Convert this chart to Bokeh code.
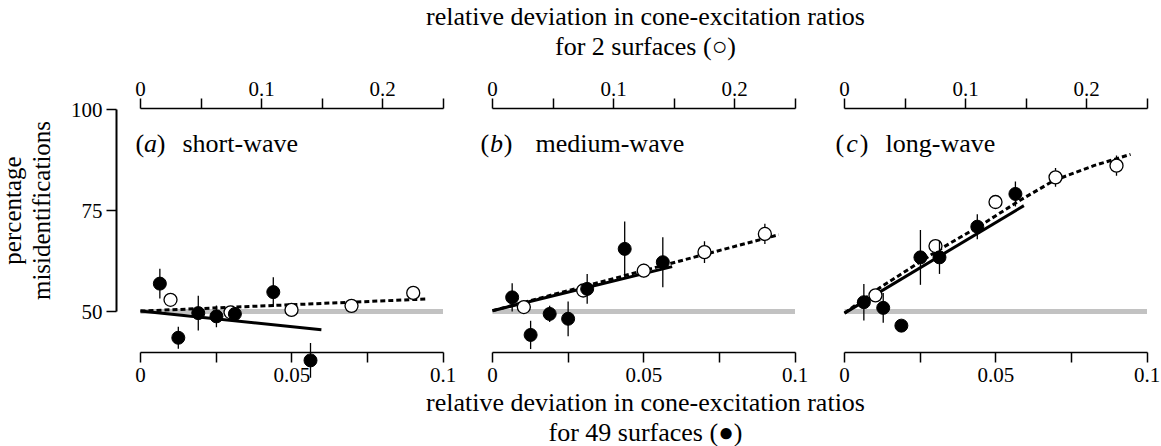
import math
from bokeh.plotting import figure
from bokeh.models import Range1d, LinearAxis, FixedTicker
from bokeh.core.properties import value
from bokeh.embed import file_html
from bokeh.resources import INLINE

# ---------------- data ----------------
panel_keys = ["a", "b", "c"]
panel_letters = ["a", "b", "c"]
panel_names = ["short-wave", "medium-wave", "long-wave"]

# 49 surfaces (filled circles), bottom axis units
a_filled_x = [0.0064, 0.0125, 0.0191, 0.0251, 0.0312, 0.0439, 0.0562]
a_filled_y = [56.9, 43.5, 49.6, 48.8, 49.4, 54.8, 37.9]
a_filled_e = [3.7, 2.7, 4.3, 2.7, 0.8, 3.7, 4.3]
b_filled_x = [0.0065, 0.0126, 0.0189, 0.0250, 0.0313, 0.0437, 0.0563]
b_filled_y = [53.5, 44.2, 49.4, 48.2, 55.6, 65.5, 62.2]
b_filled_e = [3.5, 3.5, 2.0, 4.3, 3.7, 6.8, 6.2]
c_filled_x = [0.0064, 0.0128, 0.0188, 0.0251, 0.0314, 0.0439, 0.0565]
c_filled_y = [52.3, 50.9, 46.5, 63.4, 63.4, 71.0, 79.1]
c_filled_e = [4.5, 3.7, 0.0, 6.8, 4.1, 3.1, 3.1]

# 2 surfaces (open circles), top axis units
a_open_x = [0.0248, 0.0744, 0.1248, 0.1744, 0.2254]
a_open_y = [52.9, 49.8, 50.4, 51.4, 54.6]
a_open_e = [0.0, 0.0, 1.7, 0.0, 0.0]
b_open_x = [0.0259, 0.0750, 0.1250, 0.1752, 0.2251]
b_open_y = [51.1, 55.2, 60.1, 64.7, 69.2]
b_open_e = [0.0, 0.0, 1.7, 2.7, 2.5]
c_open_x = [0.0256, 0.0752, 0.1248, 0.1744, 0.2248]
c_open_y = [54.0, 66.2, 77.1, 83.2, 86.1]
c_open_e = [0.0, 0.0, 0.0, 2.3, 2.5]

# fitted lines
a_solid_x = [0.0, 0.0598]
a_solid_y = [50.1, 45.5]
b_solid_x = [0.0, 0.0594]
b_solid_y = [50.2, 61.1]
c_solid_x = [0.0, 0.0593]
c_solid_y = [49.6, 76.2]
a_dash_x = [0.0, 0.237]
a_dash_y = [50.1, 53.1]
b_dash_x = [0.0, 0.2366]
b_dash_y = [50.2, 69.0]
c_dash_x = [0.0, 0.0298, 0.0793, 0.1124, 0.1455, 0.1730, 0.2060, 0.2364]
c_dash_y = [49.6, 56.0, 65.5, 71.3, 77.6, 82.4, 86.1, 88.9]

chance_x = [0.0, 0.1]
chance_y = [50, 50]

bottom_ticks = [0, 0.05, 0.1]
bottom_tick_labels = ["0", "0.05", "0.1"]
bottom_minor = [0.025, 0.075]
top_ticks = [0, 0.1, 0.2]
top_tick_labels = ["0", "0.1", "0.2"]
top_minor = [0.05, 0.15, 0.25]
y_ticks = [50, 75, 100]

filled = {"a": (a_filled_x, a_filled_y, a_filled_e),
          "b": (b_filled_x, b_filled_y, b_filled_e),
          "c": (c_filled_x, c_filled_y, c_filled_e)}
opened = {"a": (a_open_x, a_open_y, a_open_e),
          "b": (b_open_x, b_open_y, b_open_e),
          "c": (c_open_x, c_open_y, c_open_e)}
solid = {"a": (a_solid_x, a_solid_y), "b": (b_solid_x, b_solid_y), "c": (c_solid_x, c_solid_y)}
dashed = {"a": (a_dash_x, a_dash_y), "b": (b_dash_x, b_dash_y), "c": (c_dash_x, c_dash_y)}

# ---------------- layout (canvas pixels) ----------------
PAGE_L, PAGE_R, PAGE_T, PAGE_B = 0, 1161, 0, 446
ORIGINS = [140, 492, 844]          # x pixel of value 0 on each panel
SCALE = 3025.0                     # px per unit of bottom axis
TOP_FACTOR = 2.5
Y100, Y50 = 109.0, 311.0
YAXIS_X = 116
FONT = "Liberation Serif"


def y_at(py):
    return 50 + (Y50 - py) * 50.0 / (Y50 - Y100)


p = figure(width=PAGE_R - PAGE_L, height=PAGE_B - PAGE_T, output_backend="svg",
           toolbar_location=None, x_axis_type=None, y_axis_type=None,
           x_range=Range1d(PAGE_L, PAGE_R), y_range=Range1d(y_at(PAGE_B), y_at(PAGE_T)),
           min_border=0)
p.outline_line_color = None
p.background_fill_color = "white"
p.border_fill_color = "white"


def style(ax, standoff):
    ax.axis_line_width = 1.5
    ax.axis_line_color = "black"
    ax.major_tick_line_width = 1.5
    ax.minor_tick_line_width = 1.5
    ax.major_tick_in = 0
    ax.major_tick_out = 10
    ax.minor_tick_in = 0
    ax.minor_tick_out = 10
    ax.major_label_text_font = FONT
    ax.major_label_text_font_size = "21px"
    ax.major_label_text_color = "black"
    ax.major_label_standoff = standoff


for k, P0 in zip(panel_keys, ORIGINS):
    p.extra_x_ranges[k + "b"] = Range1d((PAGE_L - P0) / SCALE, (PAGE_R - P0) / SCALE)
    p.extra_x_ranges[k + "t"] = Range1d(TOP_FACTOR * (PAGE_L - P0) / SCALE,
                                        TOP_FACTOR * (PAGE_R - P0) / SCALE)

    bax = LinearAxis(x_range_name=k + "b",
                     ticker=FixedTicker(ticks=bottom_ticks, minor_ticks=bottom_minor),
                     bounds=(bottom_ticks[0], bottom_ticks[-1]),
                     fixed_location=y_at(352),
                     major_label_overrides=dict(zip(bottom_ticks, bottom_tick_labels)))
    style(bax, 5)
    p.add_layout(bax, "below")

    tax = LinearAxis(x_range_name=k + "t",
                     ticker=FixedTicker(ticks=top_ticks, minor_ticks=top_minor),
                     bounds=(0, top_minor[-1]),
                     fixed_location=y_at(108),
                     major_label_overrides=dict(zip(top_ticks, top_tick_labels)))
    style(tax, 3)
    p.add_layout(tax, "above")

yax = LinearAxis(ticker=FixedTicker(ticks=y_ticks), bounds=(y_ticks[0], y_ticks[-1]),
                 fixed_location=YAXIS_X)
style(yax, 4)
yax.minor_tick_out = 0
yax.axis_line_width = 2
p.add_layout(yax, "left")

# ---------------- glyphs ----------------
for k in panel_keys:
    xb, xt = k + "b", k + "t"
    p.line(chance_x, chance_y, line_width=5, line_color="#c2c2c2", x_range_name=xb)
    sx, sy = solid[k]
    p.line(sx, sy, line_width=3, line_color="black", x_range_name=xb)
    dx, dy = dashed[k]
    p.line(dx, dy, line_width=3, line_color="black", line_dash="5 3", x_range_name=xt)

    ox, oy, oe = opened[k]
    p.segment(x0=ox, y0=[y - e for y, e in zip(oy, oe)], x1=ox, y1=[y + e for y, e in zip(oy, oe)],
              line_width=1.3, line_color="black", x_range_name=xt)
    p.scatter(ox, oy, marker="circle", size=13, fill_color="white", line_color="black",
              line_width=1.3, x_range_name=xt)

    fx, fy, fe = filled[k]
    p.segment(x0=fx, y0=[y - e for y, e in zip(fy, fe)], x1=fx, y1=[y + e for y, e in zip(fy, fe)],
              line_width=1.3, line_color="black", x_range_name=xb)
    p.scatter(fx, fy, marker="circle", size=13, fill_color="black", line_color="black",
              line_width=1, x_range_name=xb)

# ---------------- texts ----------------
TITLE_SIZE = "26px"
paren_l = [135, 480, 835]
paren_r = [165, 512, 868]
word_x = [182, 535, 885]
tb = y_at(143)
for L, R, W, letter, name in zip(paren_l, paren_r, word_x, panel_letters, panel_names):
    p.text(x=[L], y=[tb], text=["("], text_font=value(FONT), text_font_size=TITLE_SIZE,
           text_align="left", text_baseline="alphabetic", text_color="black")
    p.text(x=[(L + R) / 2.0], y=[tb], text=[letter], text_font=value(FONT),
           text_font_style="italic", text_font_size=TITLE_SIZE,
           text_align="center", text_baseline="alphabetic", text_color="black")
    p.text(x=[R], y=[tb], text=[")"], text_font=value(FONT), text_font_size=TITLE_SIZE,
           text_align="right", text_baseline="alphabetic", text_color="black")
    p.text(x=[W], y=[tb], text=[name], text_font=value(FONT), text_font_size=TITLE_SIZE,
           text_align="left", text_baseline="alphabetic", text_color="black")

LABEL_SIZE = "26px"
top_lines = ["relative deviation in cone-excitation ratios", "for 2 surfaces (\u25cb)"]
bottom_lines = ["relative deviation in cone-excitation ratios", "for 49 surfaces (\u25cf)"]
p.text(x=[645, 645], y=[y_at(16), y_at(46)], text=top_lines, text_font=value(FONT),
       text_font_size=LABEL_SIZE, text_align="center", text_baseline="alphabetic",
       text_color="black")
p.text(x=[645, 645], y=[y_at(402), y_at(432)], text=bottom_lines, text_font=value(FONT),
       text_font_size=LABEL_SIZE, text_align="center", text_baseline="alphabetic",
       text_color="black")

p.text(x=[12, 41], y=[y_at(210), y_at(210)], text=["percentage", "misidentifications"],
       text_font=value(FONT), text_font_size="25px", angle=math.pi / 2,
       text_align="center", text_baseline="alphabetic", text_color="black")

open("out.html", "w").write(file_html(p, INLINE))
